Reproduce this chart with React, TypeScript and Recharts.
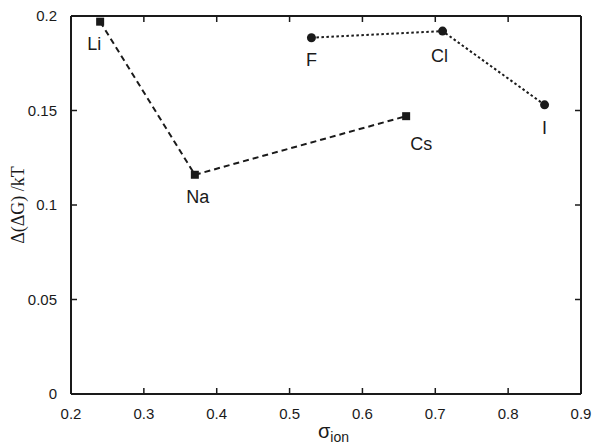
import { ComposedChart, Scatter, XAxis, YAxis, Label } from "recharts";

// cations (squares, dashed) and anions (circles, dotted)
const cationNames = ["Li", "Na", "Cs"];
const cationSigma = [0.24, 0.37, 0.66];
const cationDDG = [0.197, 0.116, 0.147];

const anionNames = ["F", "Cl", "I"];
const anionSigma = [0.53, 0.71, 0.85];
const anionDDG = [0.1885, 0.192, 0.153];

const xTicks = [0.2, 0.3, 0.4, 0.5, 0.6, 0.7, 0.8, 0.9];
const yTicks = [0, 0.05, 0.1, 0.15, 0.2];

const cations = cationNames.map((name, i) => ({ name, x: cationSigma[i], y: cationDDG[i] }));
const anions = anionNames.map((name, i) => ({ name, x: anionSigma[i], y: anionDDG[i] }));

// where each ion label sits relative to its marker
const LABEL_OFFSETS: Record<string, [number, number]> = {
    Li: [-6, 28],
    Na: [3, 28],
    Cs: [15, 34],
    F: [0, 28],
    Cl: [-3, 31],
    I: [0, 29],
};

const INK = "#1a1a1a";
const SANS = "'Liberation Sans', Arial, sans-serif";
const TICK_LEN = 6;
const MARGIN = 14;

const Square = ({ cx, cy }: { cx: number; cy: number }) => (
    <rect x={cx - 4} y={cy - 4} width={8} height={8} fill={INK} />
);

const Dot = ({ cx, cy }: { cx: number; cy: number }) => (
    <circle cx={cx} cy={cy} r={4.5} fill={INK} />
);

const Nothing = () => <g />;

const renderIonLabel = (data: Array<{ name: string }>) => (props: any) => {
    const { x, y, width, height, index } = props;
    const name = data[index].name;
    const [dx, dy] = LABEL_OFFSETS[name];
    const cx = x + (width || 0) / 2;
    const cy = y + (height || 0) / 2;
    return (
        <text x={cx + dx} y={cy + dy} textAnchor="middle" fill={INK} fontSize={18} fontFamily={SANS}>
            {name}
        </text>
    );
};

const fmt = (v: number) => (v === 0 ? "0" : String(v));

// inward pointing ticks, gnuplot style
const BottomTick = ({ x, y, payload }: any) => {
    const ay = y - MARGIN;
    return (
        <g>
            <line x1={x} y1={ay} x2={x} y2={ay - TICK_LEN} stroke={INK} strokeWidth={1.5} />
            <text x={x} y={y} dy="0.71em" textAnchor="middle" fill={INK} fontSize={15} fontFamily={SANS}>
                {fmt(payload.value)}
            </text>
        </g>
    );
};

const TopTick = ({ x, y }: any) => (
    <line x1={x} y1={y} x2={x} y2={y + TICK_LEN} stroke={INK} strokeWidth={1.5} />
);

const LeftTick = ({ x, y, payload }: any) => {
    const ax = x + MARGIN;
    return (
        <g>
            <line x1={ax} y1={y} x2={ax + TICK_LEN} y2={y} stroke={INK} strokeWidth={1.5} />
            <text x={x} y={y} dy="0.355em" textAnchor="end" fill={INK} fontSize={15} fontFamily={SANS}>
                {fmt(payload.value)}
            </text>
        </g>
    );
};

const RightTick = ({ x, y }: any) => (
    <line x1={x} y1={y} x2={x - TICK_LEN} y2={y} stroke={INK} strokeWidth={1.5} />
);

const App = () => {
    return (
        <div style={{ position: "absolute", left: 0, top: 0, background: "#fff" }}>
            <ComposedChart width={600} height={447} margin={{ top: 15, right: 18, bottom: 0, left: 0 }}>
                <XAxis
                    xAxisId="bottom"
                    type="number"
                    dataKey="x"
                    domain={[0.2, 0.9]}
                    ticks={xTicks}
                    height={53}
                    axisLine={{ stroke: INK, strokeWidth: 2 }}
                    tickLine={false}
                    tickSize={0}
                    tickMargin={MARGIN}
                    tick={BottomTick}
                    interval={0}
                >
                    <Label
                        content={({ viewBox }: any) => (
                            <text x={viewBox.x + viewBox.width / 2 - 8} y={viewBox.y + 44} fill={INK} fontFamily={SANS}>
                                <tspan fontSize={20}>σ</tspan>
                                <tspan fontSize={14} dy={4}>ion</tspan>
                            </text>
                        )}
                    />
                </XAxis>
                <XAxis
                    xAxisId="top"
                    orientation="top"
                    type="number"
                    dataKey="x"
                    domain={[0.2, 0.9]}
                    ticks={xTicks}
                    height={1}
                    axisLine={{ stroke: INK, strokeWidth: 2 }}
                    tickLine={false}
                    tickSize={0}
                    tickMargin={0}
                    tick={TopTick}
                    interval={0}
                />
                <YAxis
                    yAxisId="left"
                    type="number"
                    dataKey="y"
                    domain={[0, 0.2]}
                    ticks={yTicks}
                    width={71}
                    axisLine={{ stroke: INK, strokeWidth: 2 }}
                    tickLine={false}
                    tickSize={0}
                    tickMargin={MARGIN}
                    tick={LeftTick}
                    interval={0}
                >
                    <Label
                        content={({ viewBox }: any) => {
                            const lx = viewBox.x + 24;
                            const ly = viewBox.y + viewBox.height / 2;
                            return (
                                <text
                                    x={lx}
                                    y={ly}
                                    transform={`rotate(-90 ${lx} ${ly})`}
                                    textAnchor="middle"
                                    fill={INK}
                                    fontSize={18}
                                    fontFamily="'Liberation Serif', 'Times New Roman', serif"
                                >
                                    Δ(ΔG) /kT
                                </text>
                            );
                        }}
                    />
                </YAxis>
                <YAxis
                    yAxisId="right"
                    orientation="right"
                    type="number"
                    dataKey="y"
                    domain={[0, 0.2]}
                    ticks={yTicks}
                    width={1}
                    axisLine={{ stroke: INK, strokeWidth: 2 }}
                    tickLine={false}
                    tickSize={0}
                    tickMargin={0}
                    tick={RightTick}
                    interval={0}
                />
                {/* invisible series so the mirrored frame axes get their ticks */}
                <Scatter
                    xAxisId="top"
                    yAxisId="right"
                    data={anions}
                    shape={Nothing as any}
                    isAnimationActive={false}
                />
                <Scatter
                    xAxisId="bottom"
                    yAxisId="left"
                    data={cations}
                    fill={INK}
                    shape={Square as any}
                    line={{ stroke: INK, strokeWidth: 2, strokeDasharray: "6 4" }}
                    isAnimationActive={false}
                    label={renderIonLabel(cations)}
                />
                <Scatter
                    xAxisId="bottom"
                    yAxisId="left"
                    data={anions}
                    fill={INK}
                    shape={Dot as any}
                    line={{ stroke: INK, strokeWidth: 2, strokeDasharray: "2.5 2.5" }}
                    isAnimationActive={false}
                    label={renderIonLabel(anions)}
                />
            </ComposedChart>
        </div>
    );
};

export default App;
